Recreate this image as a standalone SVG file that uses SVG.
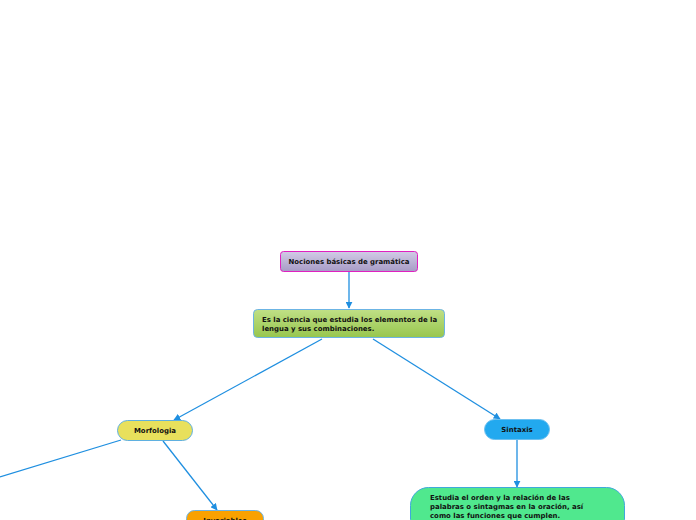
<svg xmlns="http://www.w3.org/2000/svg" width="696" height="520" viewBox="0 0 696 520">
<defs>
<linearGradient id="gRoot" x1="0" y1="0" x2="0" y2="1"><stop offset="0" stop-color="#d2cbe6"/><stop offset="1" stop-color="#a79bc6"/></linearGradient>
<linearGradient id="gDef" x1="0" y1="0" x2="0" y2="1"><stop offset="0" stop-color="#c0e086"/><stop offset="1" stop-color="#97c64e"/></linearGradient>
<marker id="arr" viewBox="0 0 10 10" refX="9" refY="5" markerWidth="7" markerHeight="7" orient="auto" markerUnits="userSpaceOnUse"><path d="M0,0 L10,5 L0,10 z" fill="#1f8fe0"/></marker>
</defs>
<style>
text{font-family:"DejaVu Sans",Verdana,sans-serif;font-weight:bold;font-size:6.95px;fill:#111}
.c{stroke:#1f8fe0;stroke-width:1.3;fill:none}
</style>
<rect width="696" height="520" fill="#fff"/>
<g id="connectors">
<line class="c" x1="349" y1="272" x2="349" y2="308" marker-end="url(#arr)"/>
<line class="c" x1="322" y1="339" x2="174" y2="420" marker-end="url(#arr)"/>
<line class="c" x1="373" y1="339" x2="500" y2="419" marker-end="url(#arr)"/>
<line class="c" x1="121" y1="440" x2="0" y2="477"/>
<line class="c" x1="163" y1="441" x2="217" y2="510" marker-end="url(#arr)"/>
<line class="c" x1="517" y1="440" x2="517" y2="487" marker-end="url(#arr)"/>
</g>
<g id="root">
<rect x="280.5" y="251.5" width="137" height="20" rx="3" fill="url(#gRoot)" stroke="#e020c0" stroke-width="1"/>
<text x="349" y="264" text-anchor="middle">Nociones básicas de gramática</text>
</g>
<g id="definicion">
<rect x="253.5" y="309.5" width="191" height="28" rx="4" fill="url(#gDef)" stroke="#6cb4e4" stroke-width="1"/>
<text x="262" y="321.5">Es la ciencia que estudia los elementos de la</text>
<text x="262" y="330.5">lengua y sus combinaciones.</text>
</g>
<g id="morfologia">
<rect x="117.5" y="420.5" width="75" height="20" rx="10" fill="#e8e05c" stroke="#5fb0e0" stroke-width="1"/>
<text x="155" y="433" text-anchor="middle">Morfologia</text>
</g>
<g id="sintaxis">
<rect x="484.5" y="419.5" width="65" height="20" rx="10" fill="#22a9ef" stroke="#6cc0f0" stroke-width="1"/>
<text x="517" y="432" text-anchor="middle">Sintaxis</text>
</g>
<g id="sintaxis-desc">
<rect x="410.5" y="487.5" width="214" height="50" rx="18" fill="#50e88e" stroke="#40a8dc" stroke-width="1"/>
<text x="430" y="499.5">Estudia el orden y la relación de las</text>
<text x="430" y="508.5">palabras o sintagmas en la oración, así</text>
<text x="430" y="517.5">como las funciones que cumplen.</text>
</g>
<g id="invariables">
<rect x="186.5" y="510.5" width="77" height="20" rx="8" fill="#f9a100" stroke="#6cb4e4" stroke-width="1"/>
<text x="225" y="523" text-anchor="middle">Invariables</text>
</g>
</svg>
